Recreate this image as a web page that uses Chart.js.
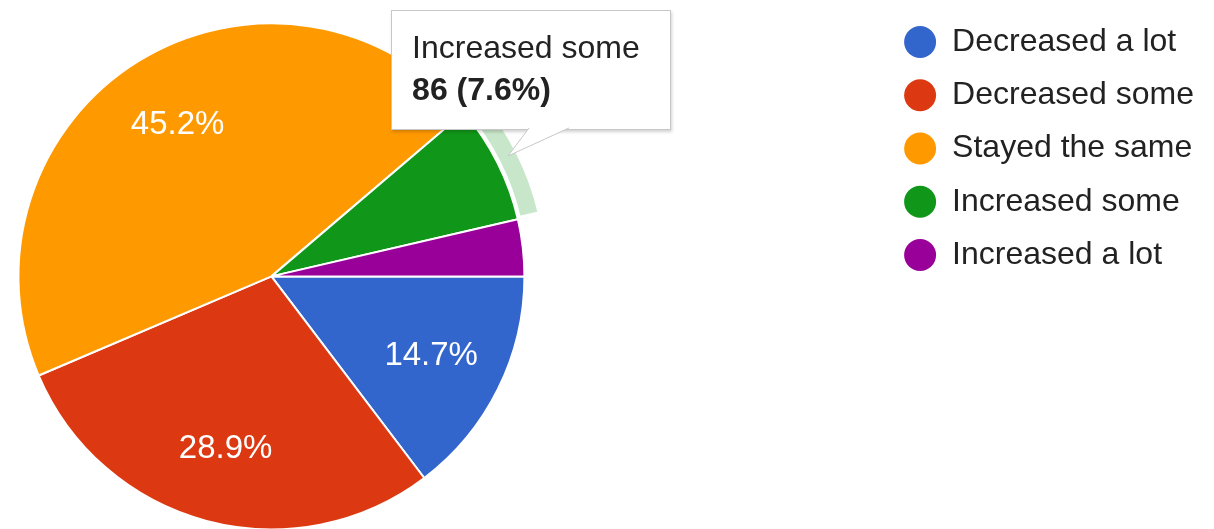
<!DOCTYPE html>
<html>
<head>
<meta charset="utf-8">
<script src="https://cdn.jsdelivr.net/npm/chart.js"></script>
<style>
  body { margin: 0; background: #fff; }
  #wrap { position: relative; width: 1214px; height: 529px; overflow: hidden; }
  /* canvas is wider/taller than the page so the pie sits left of the legend */
  #chartBox { width: 1554px; height: 548px; margin-left: -340px; }
  #tip {
    position: absolute; display: none;
    background: #fff; border: 1px solid #c8c8c8;
    box-shadow: 1px 2px 3px rgba(0, 0, 0, 0.18);
    padding: 15px 30px 19px 20px;
    font-family: "Liberation Sans", Arial, sans-serif;
    font-size: 32px; line-height: 42px; color: #222;
    white-space: nowrap;
  }
  #tipBody { font-weight: bold; }
  #tip svg { position: absolute; left: 0; top: 100%; margin-top: -1px; overflow: visible; }
</style>
</head>
<body>
<div id="wrap">
  <div id="chartBox"><canvas id="pieChart"></canvas></div>
  <div id="tip">
    <div id="tipTitle"></div>
    <div id="tipBody"></div>
    <svg width="200" height="30">
      <polygon points="137,0 116,28 177,0" fill="#fff"/>
      <polyline points="137,0 116,28 177,0" fill="none" stroke="#c8c8c8" stroke-width="1"/>
    </svg>
  </div>
</div>
<script>
const categories = ['Decreased a lot', 'Decreased some', 'Stayed the same', 'Increased some', 'Increased a lot'];
const responses = [166, 327, 511, 86, 41];
const highlighted = 3;

const total = responses.reduce((a, b) => a + b, 0);
const pct = v => (v / total * 100).toFixed(1) + '%';
const fontFamily = '"Liberation Sans", Arial, sans-serif';

// tooltip points at the middle of the highlight ring of the hovered slice
Chart.Tooltip.positioners.sliceEdge = function(items) {
  if (!items.length) return false;
  const arc = items[0].element;
  const mid = (arc.startAngle + arc.endAngle) / 2;
  const r = (arc.innerRadius + arc.outerRadius) / 2;
  return {x: arc.x + Math.cos(mid) * r, y: arc.y + Math.sin(mid) * r};
};

function drawTip(context) {
  const {chart, tooltip} = context;
  const tip = document.getElementById('tip');
  if (tooltip.opacity === 0) { tip.style.display = 'none'; return; }
  document.getElementById('tipTitle').textContent = tooltip.title[0];
  document.getElementById('tipBody').textContent = tooltip.body[0].lines[0];
  tip.style.display = 'block';
  tip.style.left = (chart.canvas.offsetLeft + tooltip.caretX - 117) + 'px';
  tip.style.top = (chart.canvas.offsetTop + tooltip.caretY - 27 - tip.offsetHeight) + 'px';
}

// percentage text inside the big slices
const sliceLabels = {
  id: 'sliceLabels',
  afterDatasetsDraw(chart) {
    const meta = chart.getDatasetMeta(1);
    const ctx = chart.ctx;
    ctx.save();
    ctx.font = '33px ' + fontFamily;
    ctx.fillStyle = '#fff';
    ctx.textAlign = 'center';
    ctx.textBaseline = 'middle';
    meta.data.forEach((arc, i) => {
      if (responses[i] / total < 0.1) return;
      const mid = (arc.startAngle + arc.endAngle) / 2;
      const r = arc.outerRadius * 0.705;
      ctx.fillText(pct(responses[i]), arc.x + Math.cos(mid) * r, arc.y + Math.sin(mid) * r);
    });
    ctx.restore();
  }
};

let pieChart = new Chart(document.getElementById('pieChart'), {
  type: 'pie',
  data: {
    labels: categories,
    datasets: [{
      // outer ring, only shows on the hovered slice
      label: 'highlight',
      data: responses,
      weight: 24,
      backgroundColor: 'rgba(0,0,0,0)',
      borderWidth: 0,
      borderAlign: 'inner',
      hoverBackgroundColor: 'rgba(16,150,24,0.23)',
      hoverBorderColor: '#fff',
      hoverBorderWidth: 3,
      hoverOffset: 0
    }, {
      label: 'Responses',
      data: responses,
      weight: 253,
      backgroundColor: ['#3366cc', '#dc3912', '#ff9900', '#109618', '#990099'],
      borderColor: '#fff',
      borderWidth: 2,
      hoverOffset: 0
    }]
  },
  options: {
    responsive: true,
    maintainAspectRatio: false,
    animation: false,
    events: [],
    rotation: 90,
    radius: 277,
    layout: { padding: { left: 0, top: 4.75, right: 10, bottom: 0 } },
    plugins: {
      legend: {
        position: 'right',
        align: 'start',
        labels: {
          usePointStyle: true,
          pointStyle: 'circle',
          boxHeight: 22.6,
          padding: 21.25,
          color: '#222',
          font: { family: fontFamily, size: 32 },
          generateLabels(chart) {
            const meta = chart.getDatasetMeta(1);
            return chart.data.labels.map((text, i) => {
              const style = meta.controller.getStyle(i);
              return {
                text, fillStyle: style.backgroundColor, strokeStyle: style.backgroundColor,
                lineWidth: 0, fontColor: '#222', pointStyle: 'circle', hidden: false, index: i
              };
            });
          }
        }
      },
      tooltip: {
        enabled: false,
        position: 'sliceEdge',
        external: drawTip,
        callbacks: {
          title: items => items[0].label,
          label: item => item.raw + ' (' + pct(item.raw) + ')'
        }
      }
    }
  },
  plugins: [sliceLabels]
});

const active = [{ datasetIndex: 0, index: highlighted }];
pieChart.setActiveElements(active);
pieChart.tooltip.setActiveElements(active, { x: 0, y: 0 });
pieChart.update();
</script>
</body>
</html>
